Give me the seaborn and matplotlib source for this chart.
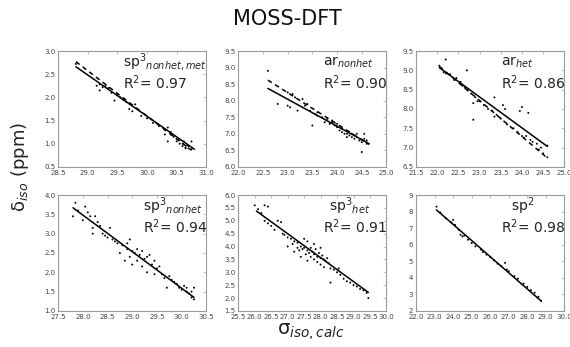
"""MOSS-DFT: measured vs calculated isotropic shielding, six atom classes."""

import matplotlib
matplotlib.use("Agg")
import matplotlib.pyplot as plt
import seaborn as sns

# ---- data ------------------------------------------------------------------
# sp3 nonhet,met
P1_X = [28.8, 29.15, 29.2, 29.25, 29.3, 29.35, 29.2, 29.4, 29.45, 29.5, 29.55,
        29.6, 29.65, 29.7, 29.75, 29.8, 29.9, 30.0, 30.1, 30.2, 30.3, 30.3,
        30.35, 30.35, 30.4, 30.4, 30.45, 30.5, 30.5, 30.55, 30.6, 30.6, 30.62,
        30.65, 30.65, 30.68, 30.7, 30.7, 30.75, 30.75]
P1_Y = [2.72, 2.25, 2.28, 2.22, 2.25, 2.2, 2.15, 2.1, 1.93, 2.05, 2.0,
        1.95, 1.9, 1.75, 1.7, 1.85, 1.6, 1.55, 1.45, 1.38, 1.3, 1.2,
        1.35, 1.05, 1.25, 1.2, 1.15, 1.1, 1.05, 1.0, 1.0, 0.95, 1.05,
        0.92, 0.9, 0.97, 0.9, 0.95, 1.05, 0.88]
P1_FIT_X = [28.8, 30.8]
P1_FIT_Y = [2.66, 0.88]
P1_REF_X = [28.8, 30.75]
P1_REF_Y = [2.77, 0.86]

# ar nonhet
P2_X = [22.6, 22.8, 23.0, 23.0, 23.05, 23.1, 23.15, 23.2, 23.3, 23.35, 23.4,
        23.45, 23.5, 23.55, 23.6, 23.6, 23.7, 23.75, 23.8, 23.85, 23.9, 23.9,
        23.95, 24.0, 24.0, 24.05, 24.1, 24.1, 24.15, 24.2, 24.2, 24.25, 24.3,
        24.3, 24.35, 24.4, 24.4, 24.45, 24.5, 24.5, 24.55, 24.55, 24.6, 24.6]
P2_Y = [8.9, 7.9, 7.85, 8.25, 7.8, 8.2, 8.1, 7.7, 8.05, 7.85, 7.9,
        7.7, 7.25, 7.6, 7.55, 7.65, 7.5, 7.35, 7.45, 7.3, 7.35, 7.4,
        7.25, 7.2, 7.3, 7.1, 7.15, 7.05, 7.0, 7.0, 6.9, 6.95, 6.9,
        7.0, 6.85, 6.9, 7.0, 6.8, 6.75, 6.45, 7.0, 6.85, 6.8, 6.7]
P2_FIT_X = [22.6, 24.65]
P2_FIT_Y = [8.37, 6.7]
P2_REF_X = [22.6, 24.65]
P2_REF_Y = [8.62, 6.68]

# ar het
P3_X = [22.05, 22.1, 22.15, 22.2, 22.2, 22.3, 22.4, 22.45, 22.55, 22.6, 22.65,
        22.7, 22.7, 22.8, 22.85, 22.85, 22.9, 22.95, 23.0, 23.1, 23.2, 23.3,
        23.35, 23.35, 23.4, 23.5, 23.55, 23.6, 23.65, 23.8, 23.9, 23.95, 24.0,
        24.0, 24.05, 24.1, 24.15, 24.2, 24.25, 24.35, 24.4, 24.45, 24.5, 24.6,
        24.6]
P3_Y = [9.12, 9.05, 8.95, 9.28, 8.92, 8.9, 8.75, 8.8, 8.7, 8.6, 8.55,
        8.5, 9.0, 8.4, 8.15, 7.72, 8.3, 8.2, 8.2, 8.1, 8.0, 7.95,
        8.3, 7.8, 7.85, 7.75, 8.1, 8.0, 7.6, 7.5, 7.4, 7.95, 8.05,
        7.3, 7.25, 7.3, 7.9, 7.2, 7.15, 7.1, 6.95, 7.0, 6.85, 6.75,
        7.05]
P3_FIT_X = [22.05, 24.6]
P3_FIT_Y = [9.07, 7.03]
P3_REF_X = [22.05, 24.6]
P3_REF_Y = [9.1, 6.73]

# sp3 nonhet
P4_X = [27.8, 27.85, 27.9, 28.0, 28.05, 28.1, 28.15, 28.2, 28.2, 28.25, 28.3,
        28.35, 28.4, 28.45, 28.5, 28.55, 28.6, 28.65, 28.7, 28.75, 28.8, 28.85,
        28.9, 28.9, 28.95, 28.95, 29.0, 29.0, 29.05, 29.1, 29.1, 29.15, 29.2,
        29.2, 29.25, 29.3, 29.3, 29.35, 29.4, 29.45, 29.45, 29.5, 29.55, 29.6,
        29.65, 29.7, 29.75, 29.8, 29.85, 29.9, 29.95, 30.0, 30.05, 30.1, 30.1,
        30.15, 30.2, 30.2, 30.25, 30.25]
P4_Y = [3.45, 3.8, 3.6, 3.35, 3.7, 3.55, 3.45, 3.0, 3.15, 3.45, 3.3,
        3.2, 3.0, 2.95, 2.9, 3.15, 2.85, 2.8, 2.75, 2.5, 2.7, 2.3,
        2.6, 2.75, 2.85, 2.4, 2.55, 2.2, 2.5, 2.3, 2.6, 2.45, 2.55,
        2.15, 2.35, 2.0, 2.4, 2.45, 2.2, 2.3, 1.95, 2.1, 2.15, 1.95,
        1.85, 1.6, 1.9, 1.8, 1.75, 1.7, 1.6, 1.55, 1.65, 1.5, 1.6,
        1.45, 1.35, 1.5, 1.3, 1.6]
P4_FIT_X = [27.8, 30.25]
P4_FIT_Y = [3.67, 1.35]

# sp3 het
P5_X = [26.0, 26.1, 26.2, 26.3, 26.4, 26.3, 26.4, 26.5, 26.6, 26.7, 26.8,
        26.85, 26.9, 27.0, 27.0, 27.1, 27.15, 27.2, 27.2, 27.3, 27.3, 27.35,
        27.4, 27.4, 27.45, 27.5, 27.5, 27.55, 27.6, 27.6, 27.6, 27.65, 27.7,
        27.7, 27.75, 27.8, 27.8, 27.8, 27.85, 27.9, 27.9, 27.95, 28.0, 28.0,
        28.0, 28.05, 28.1, 28.1, 28.15, 28.2, 28.25, 28.3, 28.3, 28.4, 28.5,
        28.55, 28.6, 28.7, 28.8, 28.9, 29.0, 29.1, 29.2, 29.3, 29.4, 29.45]
P5_Y = [5.6, 5.45, 5.3, 5.6, 5.55, 5.0, 4.9, 4.8, 4.65, 5.0, 4.95,
        4.5, 4.45, 4.35, 4.0, 4.3, 4.1, 4.2, 3.8, 4.15, 3.95, 3.85,
        4.0, 3.6, 3.9, 3.95, 4.3, 3.7, 3.85, 4.2, 3.45, 3.75, 3.6,
        3.95, 3.8, 3.5, 3.7, 4.1, 3.9, 3.6, 3.4, 3.75, 3.55, 3.3,
        3.95, 3.65, 3.5, 3.2, 3.45, 3.55, 3.35, 3.15, 2.6, 3.1, 3.0,
        3.15, 2.9, 2.75, 2.65, 2.6, 2.5, 2.45, 2.35, 2.3, 2.2, 2.0]
P5_FIT_X = [26.05, 29.45]
P5_FIT_Y = [5.38, 2.22]

# sp2
P6_X = [23.1, 23.3, 23.6, 23.9, 24.0, 24.1, 24.3, 24.4, 24.5, 24.6, 24.8,
        25.0, 25.2, 25.5, 25.6, 25.8, 26.0, 26.2, 26.4, 26.6, 26.8, 26.9,
        27.0, 27.3, 27.5, 27.8, 28.0, 28.2, 28.4, 28.6, 28.75]
P6_Y = [8.3, 7.95, 7.6, 7.35, 7.5, 7.2, 6.9, 6.6, 6.5, 6.55, 6.3,
        6.1, 5.9, 5.7, 5.55, 5.4, 5.25, 5.05, 4.85, 4.7, 4.9, 4.5,
        4.4, 4.1, 3.95, 3.65, 3.45, 3.25, 3.1, 2.85, 2.6]
P6_FIT_X = [23.1, 28.75]
P6_FIT_Y = [8.1, 2.6]

LABELS = [r"sp$^3$$_{nonhet,met}$", r"ar$_{nonhet}$", r"ar$_{het}$",
          r"sp$^3$$_{nonhet}$", r"sp$^3$$_{het}$", r"sp$^2$"]
R2 = ["0.97", "0.90", "0.86", "0.94", "0.91", "0.98"]
XLIMS = [(28.5, 31.0), (22.0, 25.0), (21.5, 25.0),
         (27.5, 30.5), (25.5, 30.0), (22.0, 30.0)]
YLIMS = [(0.5, 3.0), (6.0, 9.5), (6.5, 9.5),
         (1.0, 4.0), (1.5, 6.0), (2.0, 9.0)]
XSTEPS = [0.5, 0.5, 0.5, 0.5, 0.5, 1.0]
YSTEPS = [0.5, 0.5, 0.5, 0.5, 0.5, 1.0]
YFMT = ["{:.1f}"] * 5 + ["{:.0f}"]

sns.set_style("white")
plt.rcParams["font.family"] = ["DejaVu Sans"]

fig = plt.figure(figsize=(5.7, 3.47), dpi=100)
lefts = [0.102, 0.418, 0.730]
bottoms = [0.519, 0.104]
w, h = 0.260, 0.334

points = [(P1_X, P1_Y), (P2_X, P2_Y), (P3_X, P3_Y),
          (P4_X, P4_Y), (P5_X, P5_Y), (P6_X, P6_Y)]
fits = [(P1_FIT_X, P1_FIT_Y), (P2_FIT_X, P2_FIT_Y), (P3_FIT_X, P3_FIT_Y),
        (P4_FIT_X, P4_FIT_Y), (P5_FIT_X, P5_FIT_Y), (P6_FIT_X, P6_FIT_Y)]
refs = [(P1_REF_X, P1_REF_Y), (P2_REF_X, P2_REF_Y), (P3_REF_X, P3_REF_Y),
        None, None, None]
lab_x = [0.44, 0.57, 0.57, 0.57, 0.61, 0.64]
r2_x = [0.44, 0.57, 0.57, 0.57, 0.57, 0.57]

for i in range(6):
    ax = fig.add_axes([lefts[i % 3], bottoms[i // 3], w, h])
    x, y = points[i]
    sns.scatterplot(x=x, y=y, ax=ax, color="black", s=2, marker="o",
                    edgecolor="none", zorder=3)
    sns.lineplot(x=fits[i][0], y=fits[i][1], ax=ax, color="black", lw=1.1,
                 zorder=4)
    if refs[i] is not None:
        sns.lineplot(x=refs[i][0], y=refs[i][1], ax=ax, color="black", lw=1.1,
                     ls=(0, (3, 2.5)), zorder=4)

    x0, x1 = XLIMS[i]
    y0, y1 = YLIMS[i]
    ax.set_xlim(x0, x1)
    ax.set_ylim(y0, y1)
    nx = round((x1 - x0) / XSTEPS[i])
    ny = round((y1 - y0) / YSTEPS[i])
    xt = [x0 + k * XSTEPS[i] for k in range(nx + 1)]
    yt = [y0 + k * YSTEPS[i] for k in range(ny + 1)]
    ax.set_xticks(xt)
    ax.set_xticklabels([f"{v:.1f}" for v in xt])
    ax.set_yticks(yt)
    ax.set_yticklabels([YFMT[i].format(v) for v in yt])
    ax.tick_params(direction="in", length=2.5, width=0.5, colors="#aaaaaa",
                   labelcolor="#444444", labelsize=5.0, pad=2,
                   top=True, right=True)
    for sp in ax.spines.values():
        sp.set_color("#999999")
        sp.set_linewidth(0.8)

    ax.text(lab_x[i], 0.90, LABELS[i], transform=ax.transAxes,
            fontsize=10, va="center", ha="left", color="#222222")
    ax.text(r2_x[i], 0.725, f"R$^2$= {R2[i]}", transform=ax.transAxes,
            fontsize=10, va="center", ha="left", color="#222222")

fig.text(0.505, 0.945, "MOSS-DFT", ha="center", va="center", fontsize=15,
         color="#111111")
fig.text(0.035, 0.52, r"δ$_{iso}$ (ppm)", rotation=90, ha="center",
         va="center", fontsize=13, color="#222222")
fig.text(0.545, 0.045, r"σ$_{iso,calc}$", ha="center", va="center",
         fontsize=14, color="#222222")

fig.savefig("out.png", dpi=100)
